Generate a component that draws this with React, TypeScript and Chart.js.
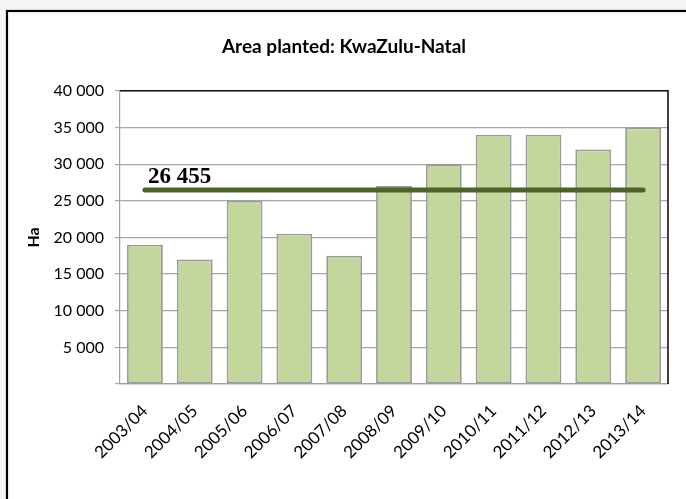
import React, { useEffect, useRef } from "react";
import { Chart, registerables } from "chart.js";

Chart.register(...registerables);

const categories = [
  "2003/04", "2004/05", "2005/06", "2006/07", "2007/08", "2008/09",
  "2009/10", "2010/11", "2011/12", "2012/13", "2013/14",
];
const areaPlanted = [19000, 17000, 25000, 20500, 17500, 27000, 30000, 34000, 34000, 32000, 35000];
const averageLine = [26455, 26455, 26455, 26455, 26455, 26455, 26455, 26455, 26455, 26455, 26455];
const averageLabel = "26 455";
const titleText = "Area planted: KwaZulu-Natal";
const yTitle = "Ha";
const yTicks = [0, 5000, 10000, 15000, 20000, 25000, 30000, 35000, 40000];

const fmt = (v: number) => String(v).replace(/\B(?=(\d{3})+(?!\d))/g, " ");

const framePlugin = {
  id: "frame",
  beforeDraw(chart: any) {
    const ctx = chart.ctx;
    ctx.save();
    ctx.fillStyle = "#f5f5f3";
    ctx.fillRect(0, 0, chart.width, chart.height);
    ctx.fillStyle = "#ffffff";
    ctx.fillRect(7, 11, chart.width, chart.height);
    ctx.strokeStyle = "#000000";
    ctx.lineWidth = 2.2;
    ctx.strokeRect(7, 11, chart.width + 20, chart.height + 20);
    ctx.restore();
  },
  afterDraw(chart: any) {
    const { ctx, chartArea } = chart;
    ctx.save();
    ctx.strokeStyle = "#111111";
    ctx.lineWidth = 1.6;
    ctx.beginPath();
    ctx.moveTo(chartArea.left, chartArea.top);
    ctx.lineTo(chartArea.right, chartArea.top);
    ctx.lineTo(chartArea.right, chartArea.bottom);
    ctx.stroke();
    ctx.restore();
  },
};

const avgLabelPlugin = {
  id: "avgLabel",
  afterDatasetsDraw(chart: any) {
    const { ctx, scales } = chart;
    const x = scales.x.getPixelForValue(0) + 3;
    const y = scales.y.getPixelForValue(averageLine[0]) - 7;
    ctx.save();
    ctx.font = "bold 23px 'Liberation Serif', serif";
    ctx.fillStyle = "#000000";
    ctx.textAlign = "left";
    ctx.textBaseline = "alphabetic";
    ctx.fillText(averageLabel, x, y);
    ctx.restore();
  },
};

export default function App() {
  const ref = useRef<HTMLCanvasElement | null>(null);
  useEffect(() => {
    if (!ref.current) return;
    const chart = new Chart(ref.current, {
      type: "bar",
      data: {
        labels: categories,
        datasets: [
          {
            type: "line",
            data: averageLine,
            borderColor: "#4f6228",
            borderWidth: 5,
            borderCapStyle: "round",
            pointRadius: 0,
            fill: false,
            order: 0,
          } as any,
          {
            type: "bar",
            data: areaPlanted,
            backgroundColor: "#c3d69b",
            borderColor: "#9a9a9a",
            borderWidth: 1.8,
            borderSkipped: false,
            categoryPercentage: 1,
            barPercentage: 0.72,
            order: 1,
          },
        ],
      },
      options: {
        responsive: false,
        animation: false,
        layout: { padding: { left: 20, right: 18, top: 0, bottom: 0 } },
        plugins: {
          legend: { display: false },
          tooltip: { enabled: false },
          title: {
            display: true,
            text: titleText,
            color: "#000000",
            font: { family: "Lato", size: 19, weight: "bold" },
            padding: { top: 35, bottom: 33 },
          },
        },
        scales: {
          x: {
            grid: { display: false },
            border: { display: true, color: "#a0a0a0", width: 1.2 },
            ticks: {
              color: "#000000",
              font: { family: "Lato", size: 17 },
              maxRotation: 45,
              minRotation: 45,
              padding: 9,
              autoSkip: false,
            },
            afterFit: (s: any) => { s.height = 115; },
          },
          y: {
            min: 0,
            max: 40000,
            afterBuildTicks: (s: any) => { s.ticks = yTicks.map((v) => ({ value: v })); },
            grid: { color: "#a6a6a6", lineWidth: 1.2, tickLength: 5 },
            border: { display: true, color: "#a0a0a0", width: 1.2 },
            ticks: {
              color: "#000000",
              font: { family: "Lato", size: 16 },
              padding: 11,
              callback: (v: any) => (Number(v) === 0 ? "" : fmt(Number(v))),
            },
            title: {
              display: true,
              text: yTitle,
              color: "#000000",
              font: { family: "Lato", size: 16, weight: "bold" },
              padding: { top: 4, bottom: 4 },
            },
            afterFit: (s: any) => { s.width = 100; },
          },
        },
      },
      plugins: [framePlugin, avgLabelPlugin],
    });
    return () => chart.destroy();
  }, []);
  return (
    <div style={{ position: "fixed", left: 0, top: 0, width: 686, height: 499 }}>
      <canvas ref={ref} width={686} height={499} style={{ width: 686, height: 499 }} />
    </div>
  );
}
